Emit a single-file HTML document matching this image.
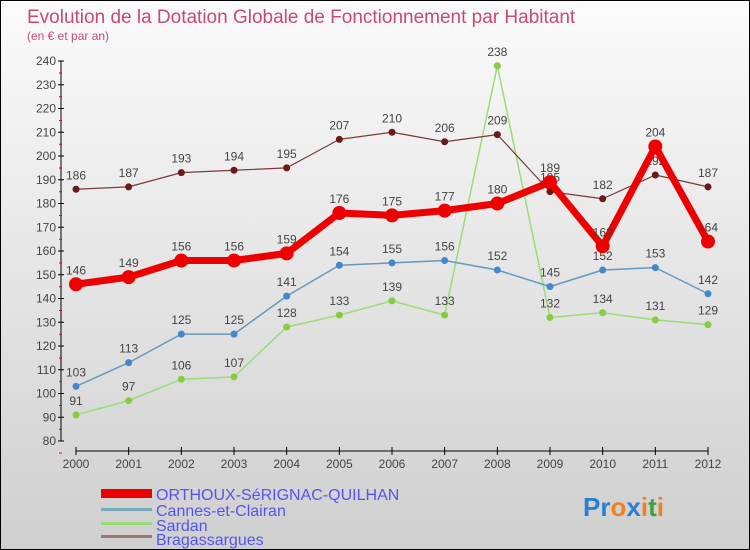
<!DOCTYPE html>
<html><head><meta charset="utf-8"><style>
body{margin:0}
#c{width:748px;height:548px;border:1px solid #000;background:linear-gradient(#fbfbfb,#cfcfcf);position:relative;overflow:hidden;font-family:"Liberation Sans",sans-serif}
svg text{font-family:"Liberation Sans",sans-serif}
</style></head><body>
<div id="c">
<svg id="s" width="748" height="548" xmlns="http://www.w3.org/2000/svg">
<text x="26" y="22" font-size="19" fill="#c84a70">Evolution de la Dotation Globale de Fonctionnement par Habitant</text>
<text x="26" y="39" font-size="12" fill="#c84a70">(en € et par an)</text>
<g id="axes"></g><g id="series"></g>
<g>
<rect x="100" y="488" width="51" height="9" fill="#e00"/>
<text x="155" y="499" font-size="16" fill="#5555ee">ORTHOUX-SéRIGNAC-QUILHAN</text>
<rect x="100" y="507" width="51" height="3" fill="#7ab"/>
<text x="155" y="515" font-size="16" fill="#5555ee">Cannes-et-Clairan</text>
<rect x="100" y="521" width="51" height="3" fill="#9d7"/>
<text x="155" y="530" font-size="16" fill="#5555ee">Sardan</text>
<rect x="100" y="534" width="51" height="3" fill="#977"/>
<text x="155" y="544" font-size="16" fill="#5555ee">Bragassargues</text>
</g>
<text x="582" y="515" font-size="26" font-weight="bold"><tspan fill="#2a7fd0">Pr</tspan><tspan fill="#f08020">o</tspan><tspan fill="#2a7fd0">x</tspan><tspan fill="#f08020">i</tspan><tspan fill="#40a040">t</tspan><tspan fill="#f08020">i</tspan></text>
</svg></div>
<script>
const years=[2000,2001,2002,2003,2004,2005,2006,2007,2008,2009,2010,2011,2012];
const yTicks=[80,90,100,110,120,130,140,150,160,170,180,190,200,210,220,230,240];
const orthoux=[146,149,156,156,159,176,175,177,180,189,162,204,164];
const cannes=[103,113,125,125,141,154,155,156,152,145,152,153,142];
const sardan=[91,97,106,107,128,133,139,133,238,132,134,131,129];
const bragas=[186,187,193,194,195,207,210,206,209,185,182,192,187];
const NS="http://www.w3.org/2000/svg";
const X=i=>75+i*(632/(years.length-1));
const Y=v=>60+(240-v)*(380/160);
function mk(t,a,p){const e=document.createElementNS(NS,t);for(const k in a)e.setAttribute(k,a[k]);p.appendChild(e);return e;}
const ax=document.getElementById('axes');
const yl=mk('line',{x1:60,y1:Y(240),x2:60,y2:Y(80),stroke:'#000'},ax);


yTicks.forEach(v=>{mk('line',{x1:57,x2:63,y1:Y(v),y2:Y(v),stroke:'#000'},ax);
mk('line',{x1:58,x2:61,y1:Y(v)+12,y2:Y(v)+12,stroke:'#e00'},ax);
const t=mk('text',{x:55,y:Y(v)+4,'font-size':12,fill:'#444','text-anchor':'end'},ax);t.textContent=v;

});
const xl=mk('line',{x1:75,y1:450,x2:707,y2:450,stroke:'#000'},ax);


years.forEach((y,i)=>{mk('line',{x1:X(i),x2:X(i),y1:446,y2:454,stroke:'#000'},ax);
const t=mk('text',{x:X(i),y:467,'font-size':12,fill:'#444','text-anchor':'middle'},ax);t.textContent=y;

});
const sg=document.getElementById('series');
function draw(d,col,dot,w,r,name){const g=mk('g',{},sg);


mk('polyline',{points:d.map((v,i)=>X(i)+','+Y(v)).join(' '),fill:'none',stroke:col,'stroke-width':w,'stroke-linejoin':'round'},g);
d.forEach((v,i)=>{const c=mk('circle',{cx:X(i),cy:Y(v),r:r,fill:dot},g);


const t=mk('text',{x:X(i),y:Y(v)-10,'font-size':12,fill:'#444','text-anchor':'middle'},g);t.textContent=v;

});}
draw(sardan,'#9d7','#8c4',1.5,3.5,'sardan');
draw(cannes,'#69b','#48c',1.5,3.5,'cannes');
draw(bragas,'#7a3a3a','#6a1a1a',1.2,3.5,'bragassargues');
draw(orthoux,'#e00','#e00',7,7,'orthoux');
</script>
</body></html>
